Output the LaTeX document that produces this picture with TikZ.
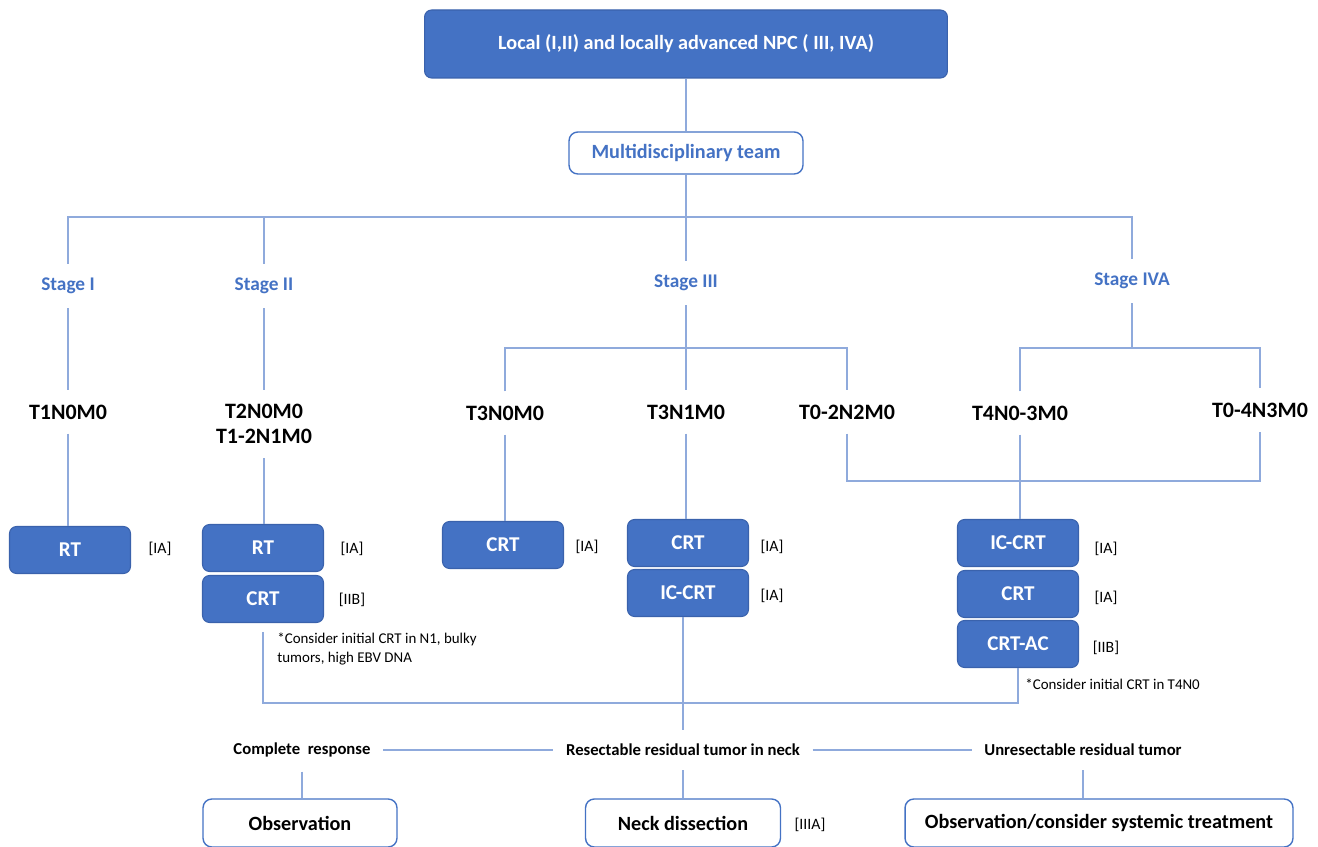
\documentclass[tikz,border=0pt]{standalone}
\usepackage{fontspec}
\setmainfont{Carlito}
\usepackage{xcolor}
\usepackage{tikz}
\usetikzlibrary{calc, positioning}

\definecolor{boxblue}{HTML}{4472C4}
\definecolor{boxedge}{HTML}{3A62AC}
\definecolor{linkblue}{HTML}{8FAADC}

\begin{document}
\begin{tikzpicture}[x=0.02cm,y=-0.02cm,-,
    link/.style={draw=linkblue,line width=0.8pt},
    blue node/.style={draw=boxedge,fill=boxblue,rounded corners=4pt,text=white,
      font=\bfseries\fontsize{12}{14}\selectfont,minimum width=2.42cm,minimum height=0.94cm,line width=0.6pt},
    white node/.style={draw=boxblue,fill=white,rounded corners=5pt,
      font=\bfseries\fontsize{11.5}{13}\selectfont,minimum height=0.96cm,line width=0.8pt},
    stage node/.style={text=boxblue,font=\bfseries\fontsize{11}{13}\selectfont,inner ysep=8pt},
    tnm node/.style={font=\bfseries\fontsize{12.5}{14.5}\selectfont,inner ysep=8pt,align=center},
    grade node/.style={font=\fontsize{9}{11}\selectfont},
    note node/.style={font=\fontsize{8.5}{10.8}\selectfont,align=left,anchor=north west,inner sep=0pt},
    resp node/.style={font=\bfseries\fontsize{9.5}{12}\selectfont,inner xsep=7pt,inner ysep=8pt}]

  \useasboundingbox (0,0) rectangle (1318,847);

  % top of the tree
  \node[blue node,minimum width=10.46cm,minimum height=1.36cm,
        font=\bfseries\fontsize{11.5}{14}\selectfont] (top) at (686,44) {Local (I,II) and locally advanced NPC ( III, IVA)};
  \node[white node,minimum width=4.68cm,minimum height=0.84cm,text=boxblue] (mdt) at (686,153) {Multidisciplinary team};

  \node[stage node] (s1) at (68,286) {Stage I};
  \node[stage node] (s2) at (264,286) {Stage II};
  \node[stage node] (s3) at (686,283) {Stage III};
  \node[stage node] (s4) at (1132,281) {Stage IVA};

  \node[tnm node] (t1) at (68,412) {T1N0M0};
  \node[tnm node] (t2) at (264,424) {T2N0M0\\T1-2N1M0};
  \node[tnm node] (t3a) at (505,413) {T3N0M0};
  \node[tnm node] (t3b) at (686,412) {T3N1M0};
  \node[tnm node] (t3c) at (847,412) {T0-2N2M0};
  \node[tnm node] (t4a) at (1020,413) {T4N0-3M0};
  \node[tnm node] (t4b) at (1260,410) {T0-4N3M0};

  % treatments
  \node[blue node] (rt1) at (70,550) {RT};
  \node[blue node] (rt2) at (263,548) {RT};
  \node[blue node] (crt2) at (263,599) {CRT};
  \node[blue node] (crt3a) at (503,545) {CRT};
  \node[blue node] (crt3b) at (688,543) {CRT};
  \node[blue node] (ic3) at (688,593) {IC-CRT};
  \node[blue node] (ic4) at (1018,543) {IC-CRT};
  \node[blue node] (crt4) at (1018,594) {CRT};
  \node[blue node] (ac4) at (1018,644) {CRT-AC};

  \node[grade node] (g1) at (160,549) {[IA]};
  \node[grade node] (g2a) at (352,549) {[IA]};
  \node[grade node] (g2b) at (352,600) {[IIB]};
  \node[grade node] (g3a) at (587,547) {[IA]};
  \node[grade node] (g3b) at (772,547) {[IA]};
  \node[grade node] (g3c) at (772,596) {[IA]};
  \node[grade node] (g4a) at (1106,549) {[IA]};
  \node[grade node] (g4b) at (1106,598) {[IA]};
  \node[grade node] (g4c) at (1106,648) {[IIB]};

  \node[note node] (n2) at (277,633) {*Consider initial CRT in N1, bulky\\tumors, high EBV DNA};
  \node[note node,anchor=west] (n4) at (1025,684) {*Consider initial CRT in T4N0};

  % response
  \node[resp node] (cr) at (302,750) {Complete\ \ response};
  \node[resp node] (res) at (683,750) {Resectable residual tumor in neck};
  \node[resp node] (unres) at (1083,750) {Unresectable residual tumor};

  \node[white node,minimum width=3.88cm] (obs) at (300,823) {Observation};
  \node[white node,minimum width=3.9cm] (neck) at (683,823) {Neck dissection};
  \node[grade node] (g5) at (810,825) {[IIIA]};
  \node[white node,minimum width=7.76cm] (sys) at (1099,823) {Observation/consider systemic treatment};

  \coordinate (bus0) at (0,217);
  \coordinate (bus3) at (0,348);
  \coordinate (bus4) at (0,481);
  \coordinate (bus5) at (0,703);

  \path[link] (top) edge (mdt)
              (mdt) edge (s3);
  \draw[link] (s1) |- (s4 |- bus0) -- (s4);
  \draw[link] (s2) -- (s2 |- bus0);

  \draw[link] (s1) -- (t1);
  \draw[link] (t1) -- (t1 |- rt1.north);
  \draw[link] (s2) -- (t2);
  \draw[link] (t2) -- (t2 |- rt2.north);

  \draw[link] (s3) -- (t3b);
  \draw[link] (t3a) |- (t3c |- bus3) -- (t3c);
  \draw[link] (t3a) -- (t3a |- crt3a.north);
  \draw[link] (t3b) -- (t3b |- crt3b.north);
  \draw[link] (t3c) |- (t4b |- bus4) -- (t4b);

  \draw[link] (s4) -- (s4 |- bus3);
  \draw[link] (t4a) |- (t4b |- bus3) -- (t4b);
  \draw[link] (t4a) -- (t4a |- ic4.north);

  \draw[link,shorten <=5pt] (crt2) |- (ac4 |- bus5) -- (ac4);
  \draw[link] (res |- ic3.south) -- (res);

  \draw[link] (cr) -- (res);
  \draw[link] (res) -- (unres);
  \draw[link] (cr) -- (cr |- obs.north);
  \draw[link] (res) -- (res |- neck.north);
  \draw[link] (unres) -- (unres |- sys.north);

\end{tikzpicture}
\end{document}
